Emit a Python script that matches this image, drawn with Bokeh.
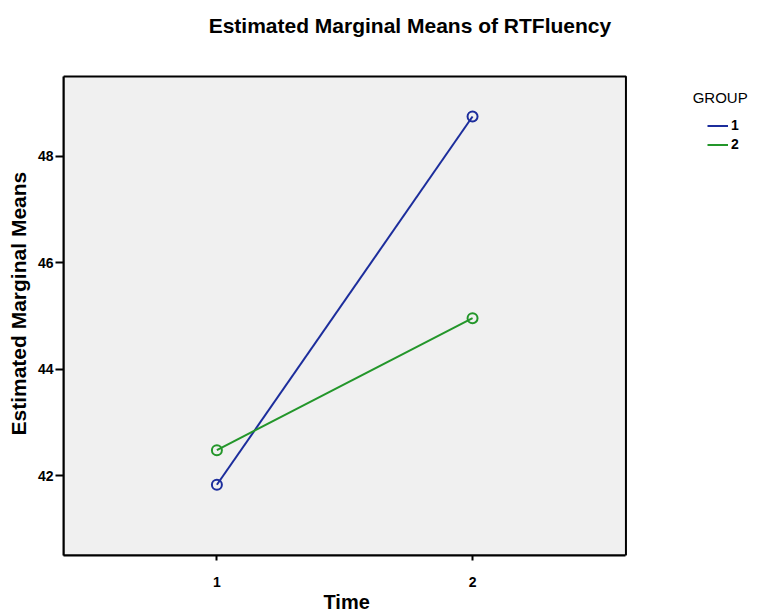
from bokeh.plotting import figure
from bokeh.models import (Legend, LegendItem, Range1d, FixedTicker, BoxAnnotation,
                          Label, Title)
from bokeh.embed import file_html
from bokeh.resources import INLINE

# ---- data ----
time_points = [1, 2]
group_labels = ["1", "2"]
group1_means = [41.83, 48.75]
group2_means = [42.48, 44.96]
y_ticks = [42, 44, 46, 48]
x_ticks = [1, 2]

colors = ["#1c2d9c", "#23962a"]
FONT = "Liberation Sans"

# plot box (axis extent); the frame extends beyond it so that the title and
# legend, drawn inside the frame, are not clipped
X_LO, X_HI = 0.4, 2.6
Y_LO, Y_HI = 40.5, 49.5

p = figure(width=752, height=615, output_backend="svg", toolbar_location=None,
           x_range=Range1d(X_LO, 3.095), y_range=Range1d(Y_LO, 50.93),
           min_border_left=62, min_border_right=0, min_border_top=0,
           min_border_bottom=60)

p.title.visible = False
p.background_fill_color = "white"
p.border_fill_color = "white"
p.outline_line_color = None
p.xgrid.visible = False
p.ygrid.visible = False

box = BoxAnnotation(left=X_LO, right=X_HI, bottom=Y_LO, top=Y_HI,
                    fill_color="#f0f0f0", fill_alpha=1.0,
                    line_color="black", line_alpha=1.0, line_width=2,
                    level="underlay")
p.add_layout(box)

p.xaxis.ticker = FixedTicker(ticks=x_ticks)
p.yaxis.ticker = FixedTicker(ticks=y_ticks)
p.xaxis.bounds = (X_LO, X_HI)
p.yaxis.bounds = (Y_LO, Y_HI)
for ax in (p.xaxis, p.yaxis):
    ax.axis_line_color = "black"
    ax.axis_line_width = 2
    ax.major_tick_line_color = "black"
    ax.major_tick_line_width = 2
    ax.major_tick_in = 0
    ax.minor_tick_line_color = None
    ax.major_label_text_font = FONT
    ax.major_label_text_font_size = "14px"
    ax.major_label_text_font_style = "bold"
    ax.major_label_text_color = "black"

p.xaxis.major_tick_out = 5
p.xaxis.major_label_standoff = 16
p.yaxis.major_tick_out = 8
p.yaxis.major_label_standoff = 2

# axis titles, centred on the plot box rather than on the (wider) frame
x_title = Title(text="Time", align="left", offset=260, standoff=2,
                vertical_align="top", text_font=FONT, text_font_size="20px",
                text_font_style="bold", text_color="black")
p.add_layout(x_title, "below")
y_title = Title(text="Estimated Marginal Means", align="left", offset=120,
                standoff=9, vertical_align="bottom", text_font=FONT,
                text_font_size="21px", text_font_style="bold",
                text_color="black")
p.add_layout(y_title, "left")

title = Label(x=1.755, y=50.46, text="Estimated Marginal Means of RTFluency",
              text_font=FONT, text_font_size="21px", text_font_style="bold",
              text_color="black", text_align="center", text_baseline="middle")
p.add_layout(title)

items = []
for means, c, lab in zip([group1_means, group2_means], colors, group_labels):
    r = p.line(time_points, means, line_color=c, line_width=2)
    p.scatter(time_points, means, marker="circle", size=10, fill_color=None,
              line_color=c, line_width=2)
    items.append(LegendItem(label=lab, renderers=[r]))

legend_title = Label(x=2.861, y=49.106, text="GROUP", text_font=FONT,
                     text_font_size="15px", text_color="black",
                     text_align="left", text_baseline="middle")
p.add_layout(legend_title)

legend = Legend(items=items, location=(644, 403),
                padding=0, margin=0, spacing=3, glyph_width=21,
                glyph_height=15, label_height=15, label_standoff=3,
                background_fill_alpha=0, border_line_alpha=0,
                label_text_font=FONT, label_text_font_size="14px",
                label_text_font_style="bold", label_text_color="black")
p.add_layout(legend, "center")

open("out.html", "w").write(file_html(p, INLINE))
